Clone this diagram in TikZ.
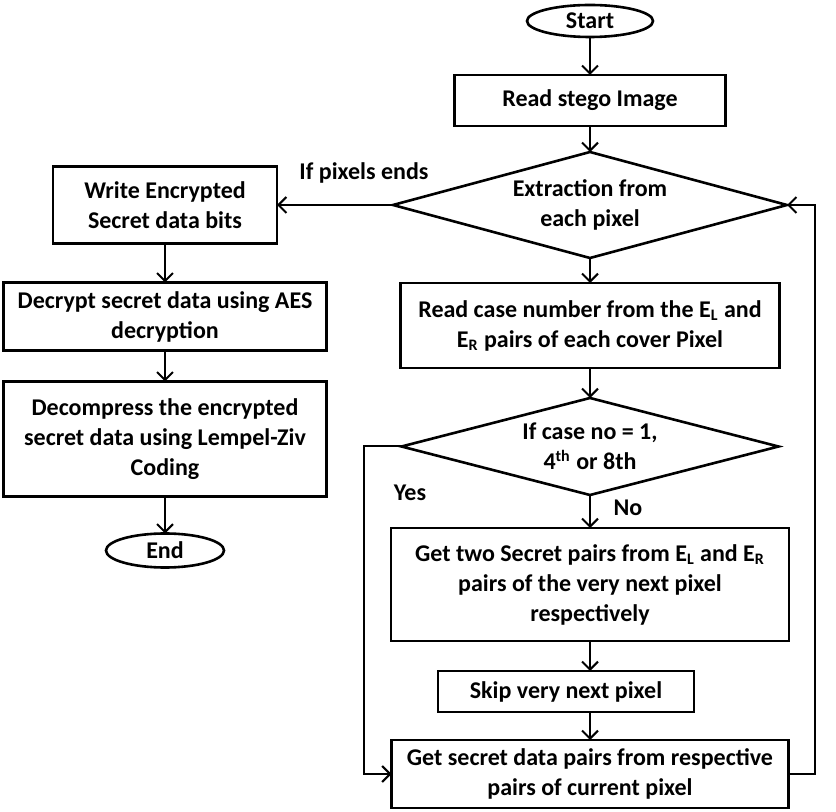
\documentclass[tikz,border=0pt]{standalone}
\usepackage{fontspec}
\setmainfont{Carlito}
\usetikzlibrary{shapes.geometric, arrows.meta, positioning, calc}
\tikzset{
  block/.style={
    rectangle, draw=black, fill=white, line width=1.3pt,
    font=\fontsize{12}{15}\selectfont\bfseries,
    inner sep=2pt, outer sep=0pt, align=center
  },
  terminal/.style={
    ellipse, draw=black, fill=white, line width=1.3pt,
    font=\fontsize{12}{15}\selectfont\bfseries, inner sep=0pt, outer sep=0pt
  },
  decision/.style={
    diamond, draw=black, fill=white, line width=1.3pt, aspect=3.7,
    font=\fontsize{12}{15}\selectfont\bfseries,
    inner sep=1pt, outer sep=0pt, align=center
  },
  lbl/.style={font=\fontsize{12}{15}\selectfont\bfseries, inner sep=1pt},
  arrow/.style={-{Straight Barb[length=4pt,width=8pt]}, line width=1pt},
}

\begin{document}
\begin{tikzpicture}[x=0.5pt, y=-0.5pt]
    \useasboundingbox (0,0) rectangle (836,812);

    % right column
    \node[terminal, minimum width=63pt, minimum height=16pt] (start) at (590,21) {Start};
    \node[block, minimum width=135.5pt, minimum height=25.5pt, below=19pt of start] (readimg) {Read stego Image};
    \node[decision, minimum width=197pt, minimum height=53pt, below=13pt of readimg] (extract) {Extraction from\\each pixel};
    \node[block, minimum width=189.5pt, minimum height=42.5pt, below=12.5pt of extract] (readcase)
      {Read case number from the E\textsubscript{L} and\\E\textsubscript{R} pairs of each cover Pixel};
    \node[decision, minimum width=188.5pt, minimum height=48.5pt, below=15pt of readcase] (casechk)
      {If case no = 1,\\4\textsuperscript{th} or 8th};
    \node[block, minimum width=199pt, minimum height=56.5pt, below=16.5pt of casechk] (gettwo)
      {Get two Secret pairs from E\textsubscript{L} and E\textsubscript{R}\\pairs of the very next pixel\\respectively};
    \node[block, minimum width=128pt, minimum height=20.5pt, below=15pt of gettwo, xshift=-12pt] (skip) {Skip very next pixel};
    \node[block, minimum width=198.5pt, minimum height=34pt, below=14pt of skip, xshift=12pt] (getcur)
      {Get secret data pairs from respective\\pairs of current pixel};

    % left column
    \node[block, minimum width=112pt, minimum height=38.5pt, left=58pt of extract] (writebits)
      {Write Encrypted\\Secret data bits};
    \node[block, minimum width=161.5pt, minimum height=34pt, below=19.5pt of writebits] (decrypt)
      {Decrypt secret data using AES\\decryption};
    \node[block, minimum width=161.5pt, minimum height=57.5pt, below=15.5pt of decrypt] (decomp)
      {Decompress the encrypted\\secret data using Lempel-Ziv\\Coding};
    \node[terminal, minimum width=59pt, minimum height=17pt, below=18.5pt of decomp] (end) {End};

    % labels
    \node[lbl] (ifends) at (364,173) {If pixels ends};
    \node[lbl] (yes) at (410,493) {Yes};
    \node[lbl] (no) at (628,508) {No};

    \coordinate (rtrack) at ($(extract.east)+(14pt,0)$);
    \coordinate (ltrack) at ($(casechk.west)+(-19pt,0)$);

    \draw[arrow] (start) -- (readimg);
    \draw[arrow] (readimg) -- (extract);
    \draw[arrow] (extract) -- (readcase);
    \draw[arrow] (readcase) -- (casechk);
    \draw[arrow] (casechk) -- (gettwo);
    \draw[arrow] (gettwo.south) -- (gettwo.south |- skip.north);
    \draw[arrow] (gettwo.south |- skip.south) -- (getcur.north);
    \draw[arrow] (casechk.west) -- (ltrack) |- (getcur.west);
    \draw[arrow] (getcur.east) -| (rtrack) -- (extract.east);
    \draw[arrow] (extract.west) -- (writebits.east);
    \draw[arrow] (writebits) -- (decrypt);
    \draw[arrow] (decrypt) -- (decomp);
    \draw[arrow] (decomp) -- (end);
\end{tikzpicture}
\end{document}
